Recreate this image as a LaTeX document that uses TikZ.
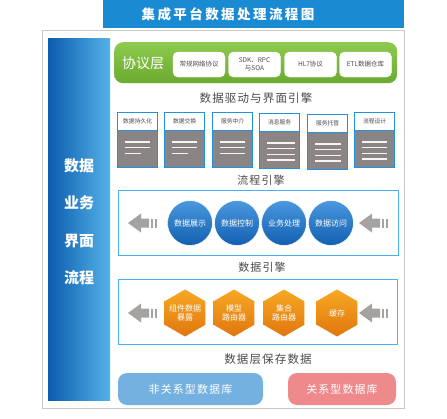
\documentclass[tikz,border=0pt]{standalone}
\usepackage{fontspec}
\setmainfont{Noto Sans CJK SC}
\newfontfamily\spaced[LetterSpace=18]{Noto Sans CJK SC}
\newfontfamily\spacedb[LetterSpace=10]{Noto Sans CJK SC}
\usetikzlibrary{shapes.geometric}
\definecolor{titleblue}{HTML}{1A8BD3}
\definecolor{coldark}{HTML}{0B5CAE}
\definecolor{collight}{HTML}{55B2E8}
\definecolor{greentop}{HTML}{8DCB4E}
\definecolor{greenbot}{HTML}{6BAA30}
\definecolor{cardblue}{HTML}{2093E0}
\definecolor{cardgray}{HTML}{8A8584}
\definecolor{boxblue}{HTML}{45B0EC}
\definecolor{balltop}{HTML}{4A98DE}
\definecolor{ballbot}{HTML}{125FB0}
\definecolor{hextop}{HTML}{F7A823}
\definecolor{hexbot}{HTML}{E0760E}
\definecolor{arrowgray}{HTML}{A6A2A0}
\definecolor{labelgray}{HTML}{4A4A4A}
\definecolor{btnblue}{HTML}{74B1E1}
\definecolor{btnpink}{HTML}{EE8A8C}
\definecolor{panelgray}{HTML}{C9C9C9}
\tikzset{
  seclabel/.style={font=\spacedb\fontsize{11.5}{13}\selectfont, text=labelgray, inner sep=0},
  protobox/.style={draw=white, fill=white, rounded corners=5pt, minimum width=52pt, minimum height=25pt, inner sep=0, align=center, font=\fontsize{6.5}{8}\selectfont, text=labelgray},
  cardhead/.style={draw=cardblue, line width=1.3pt, fill=white, minimum width=40pt, minimum height=18pt, anchor=north west, inner sep=0, font=\fontsize{5.8}{7}\selectfont, text=labelgray},
  cardbody/.style={draw=cardblue, line width=1.3pt, fill=cardgray, minimum width=40pt, minimum height=37pt, anchor=north west, inner sep=0},
  cardline/.style={draw=white!92!gray, line width=1.5pt},
  flowbox/.style={draw=boxblue, line width=1.2pt, fill=white},
  ball/.style={circle, minimum size=45pt, inner sep=0, top color=balltop, bottom color=ballbot, draw=white, line width=0.6pt, text=white, font=\fontsize{8}{9}\selectfont},
  hexa/.style={regular polygon, regular polygon sides=6, shape border rotate=30, minimum size=47pt, inner sep=0, top color=hextop, bottom color=hexbot},
  hextext/.style={text=white, font=\fontsize{8}{9.5}\selectfont, align=center, inner sep=0},
  btn/.style={rounded corners=9pt, minimum height=32pt, inner sep=0, text=white, font=\spacedb\fontsize{11}{13}\selectfont},
  garrow/.pic={
    \fill[arrowgray] (0,0) -- (13,-9.5) -- (13,-4.5) -- (21,-4.5) -- (21,4.5) -- (13,4.5) -- (13,9.5) -- cycle;
    \fill[arrowgray] (22.5,-4.5) rectangle (24.5,4.5);
    \fill[arrowgray] (26.5,-4.5) rectangle (28.5,4.5);
  }
}
\begin{document}
\begin{tikzpicture}[x=1pt,y=-1pt]
\useasboundingbox (0,0) rectangle (447,418);
\fill[white] (0,0) rectangle (447,418);
% outer panel
\node[draw=panelgray, line width=1.2pt, fill=white, anchor=north west, minimum width=362pt, minimum height=378pt, inner sep=0] (panel) at (42,30) {};
% title bar
\node[fill=titleblue, anchor=north west, minimum width=301pt, minimum height=28pt, inner sep=0] (titlebar) at (103,0) {};
\node[text=white, font=\spaced\fontsize{13.5}{15}\selectfont\bfseries, inner sep=0] (title) at (228,14) {集成平台数据处理流程图};
% left column
\node[left color=coldark, right color=collight, anchor=north west, minimum width=62pt, minimum height=362pt, inner sep=0] (leftcol) at (48,38) {};
\foreach \t/\y [count=\i] in {数据/166, 业务/203, 界面/241, 流程/278}
  \node[text=white, font=\fontsize{15}{17}\selectfont\bfseries, inner sep=0] (lc\i) at (79,\y) {\t};
% protocol layer
\node[top color=greentop, bottom color=greenbot, rounded corners=9pt, anchor=north west, minimum width=283pt, minimum height=41pt, inner sep=0] (proto) at (114,42) {};
\node[text=white, font=\fontsize{14}{16}\selectfont, inner sep=0] (protolbl) at (143,63) {协议层};
\node[protobox] (p1) at (199,64.5) {常规网络协议};
\node[protobox] (p2) at (254.5,64.5) {SDK、RPC\\与SOA};
\node[protobox] (p3) at (310.5,64.5) {HL7协议};
\node[protobox] (p4) at (365.5,64.5) {ETL数据仓库};
% section label
\node[seclabel] (l1) at (256,98) {数据驱动与界面引擎};
% cards
\foreach \x/\yt/\t/\lens [count=\i] in {
  117/112/数据持久化/{25,25,16},
  164/112/数据交换/{25,25,16},
  212/112/服务中介/{25,25,25},
  259/113/消息服务/{28,28,28,28},
  307/114/服务托管/{26,26,26,26},
  354/112/流程设计/{25,25,25,25}}{
  \node[cardbody] (b\i) at (\x,\yt+18) {};
  \node[cardhead] (h\i) at (\x,\yt) {\t};
  \foreach \len [count=\k] in \lens
    \draw[cardline] ([xshift=8pt,yshift={-6pt-5.8pt*\k}]b\i.north west) -- ++(\len,0);
}
% flow engine
\node[seclabel, font=\spacedb\fontsize{11}{13}\selectfont] (l2) at (261,180) {流程引擎};
\node[flowbox, anchor=north west, minimum width=280pt, minimum height=65pt, inner sep=0] (flow) at (118,190) {};
\pic (fa1) at (128,223) {garrow};
\pic (fa2) at (359,223) {garrow};
\node[ball] (c1) at (190,223) {数据展示};
\node[ball] (c2) at (237,223) {数据控制};
\node[ball] (c3) at (284,223) {业务处理};
\node[ball] (c4) at (331,223) {数据访问};
% data engine
\node[seclabel, font=\spacedb\fontsize{11}{13}\selectfont] (l3) at (262,267) {数据引擎};
\node[flowbox, anchor=north west, minimum width=279pt, minimum height=65pt, inner sep=0] (dataeng) at (118,279) {};
\pic (da1) at (128,313) {garrow};
\pic (da2) at (359,313) {garrow};
\node[hexa] (x1) at (185,313) {};
\node[hexa] (x2) at (234,313) {};
\node[hexa] (x3) at (284,313) {};
\node[hexa] (x4) at (337,313) {};
\node[hextext] (xt1) at (x1) {组件数据\\暴露};
\node[hextext] (xt2) at (x2) {模型\\路由器};
\node[hextext] (xt3) at (x3) {集合\\路由器};
\node[hextext] (xt4) at (x4) {缓存};
% storage
\node[seclabel] (l4) at (268,359) {数据层保存数据};
\node[btn, fill=btnblue, minimum width=145pt] (db1) at (190.5,389) {非关系型数据库};
\node[btn, fill=btnpink, minimum width=108pt] (db2) at (342,389) {关系型数据库};
\end{tikzpicture}
\end{document}
